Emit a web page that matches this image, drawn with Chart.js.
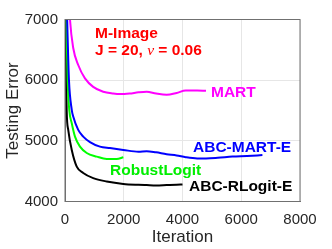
<!DOCTYPE html>
<html>
<head>
<meta charset="utf-8">
<script src="https://cdn.jsdelivr.net/npm/chart.js@4"></script>
<style>
  body { margin: 0; background: #fff; }
  canvas { display: block; }
</style>
</head>
<body>
<canvas id="chart" width="332" height="249"></canvas>
<script>
const xTicks = [0, 2000, 4000, 6000, 8000];
const yTicks = [4000, 5000, 6000, 7000];

const martIter = [100, 170, 280, 450, 680, 960, 1300, 1640, 1870, 2200, 2500, 2780, 3100, 3460, 3800, 4110, 4500, 4800];
const martErr  = [7700, 7000, 6530, 6250, 6030, 5890, 5810, 5780, 5770, 5780, 5800, 5810, 5780, 5760, 5790, 5830, 5830, 5825];

const abcMartIter = [30, 90, 135, 230, 280, 450, 620, 850, 1190, 1530, 1985, 2500, 2780, 3100, 3460, 3800, 4110, 4500, 4800, 5200, 5700, 6200, 6720];
const abcMartErr  = [7800, 6700, 6000, 5510, 5400, 5180, 5070, 4980, 4905, 4880, 4850, 4820, 4830, 4810, 4780, 4760, 4730, 4710, 4710, 4720, 4740, 4750, 4765];

const robustIter = [20, 60, 90, 145, 230, 340, 510, 740, 1080, 1420, 1760, 1985];
const robustErr  = [7800, 6700, 6000, 5510, 5290, 5070, 4905, 4800, 4740, 4700, 4700, 4730];

const abcRlogitIter = [10, 30, 57, 110, 230, 400, 620, 960, 1420, 1985, 2500, 2780, 3100, 3460, 3800, 4000];
const abcRlogitErr  = [7800, 6500, 5510, 5180, 4850, 4575, 4470, 4385, 4330, 4290, 4275, 4270, 4265, 4270, 4275, 4280];

const pts = (xs, ys) => xs.map((x, i) => ({ x: x, y: ys[i] }));

const labels = [
  { text: 'MART', color: '#ff00ff', x: 211, y: 97 },
  { text: 'ABC-MART-E', color: '#0000ff', x: 193, y: 151.5 },
  { text: 'RobustLogit', color: '#00ee00', x: 110, y: 175 },
  { text: 'ABC-RLogit-E', color: '#000000', x: 189, y: 191 }
];

const annotations = {
  id: 'annotations',
  afterDraw(chart) {
    const ctx = chart.ctx;
    const a = chart.chartArea;
    ctx.save();
    // box around the plot
    ctx.strokeStyle = '#707070';
    ctx.lineWidth = 1;
    ctx.strokeRect(a.left, a.top, a.right - a.left, a.bottom - a.top);
    ctx.textBaseline = 'alphabetic';
    ctx.textAlign = 'left';
    ctx.font = 'bold 15.5px "Liberation Sans", Arial, sans-serif';
    labels.forEach(l => {
      ctx.fillStyle = l.color;
      ctx.fillText(l.text, l.x, l.y);
    });
    ctx.fillStyle = '#ff0000';
    ctx.fillText('M-Image', 95, 37.5);
    let x = 95;
    const part1 = 'J = 20, ';
    ctx.fillText(part1, x, 55);
    x += ctx.measureText(part1).width;
    ctx.font = 'italic 15.5px "Liberation Serif", "Times New Roman", serif';
    ctx.fillText('ν', x, 55);
    x += ctx.measureText('ν').width;
    ctx.font = 'bold 15.5px "Liberation Sans", Arial, sans-serif';
    ctx.fillText(' = 0.06', x, 55);
    ctx.restore();
  }
};

const tickFont = { family: '"Liberation Sans", Arial, sans-serif', size: 15 };
const titleFont = { family: '"Liberation Sans", Arial, sans-serif', size: 17 };

new Chart(document.getElementById('chart'), {
  type: 'line',
  data: {
    datasets: [
      { label: 'MART', data: pts(martIter, martErr), borderColor: '#ff00ff' },
      { label: 'ABC-MART-E', data: pts(abcMartIter, abcMartErr), borderColor: '#0000ff' },
      { label: 'RobustLogit', data: pts(robustIter, robustErr), borderColor: '#00ff00' },
      { label: 'ABC-RLogit-E', data: pts(abcRlogitIter, abcRlogitErr), borderColor: '#000000' }
    ]
  },
  options: {
    responsive: false,
    animation: false,
    layout: { padding: { top: 19.5, right: 32, left: 0, bottom: 0 } },
    elements: {
      point: { radius: 0 },
      line: { borderWidth: 2, cubicInterpolationMode: 'monotone' }
    },
    plugins: { legend: { display: false }, tooltip: { enabled: false } },
    scales: {
      x: {
        type: 'linear',
        min: 0, max: 8000,
        afterBuildTicks: s => { s.ticks = xTicks.map(v => ({ value: v })); },
        afterFit: s => { s.height = 47.5; },
        ticks: { font: tickFont, color: '#262626', padding: 9, maxRotation: 0, callback: v => String(v) },
        grid: { color: '#e6e6e6', drawTicks: false },
        border: { color: '#707070' },
        title: { display: true, text: 'Iteration', font: titleFont, color: '#262626', padding: { top: 0, bottom: 1 } }
      },
      y: {
        min: 4000, max: 7000,
        afterBuildTicks: s => { s.ticks = yTicks.map(v => ({ value: v })); },
        afterFit: s => { s.width = 65; },
        ticks: { font: tickFont, color: '#262626', padding: 7, callback: v => String(v) },
        grid: { color: '#e6e6e6', drawTicks: false },
        border: { color: '#707070' },
        title: { display: true, text: 'Testing Error', font: titleFont, color: '#262626', padding: { top: 3, bottom: 0 } }
      }
    }
  },
  plugins: [annotations]
});
</script>
</body>
</html>
